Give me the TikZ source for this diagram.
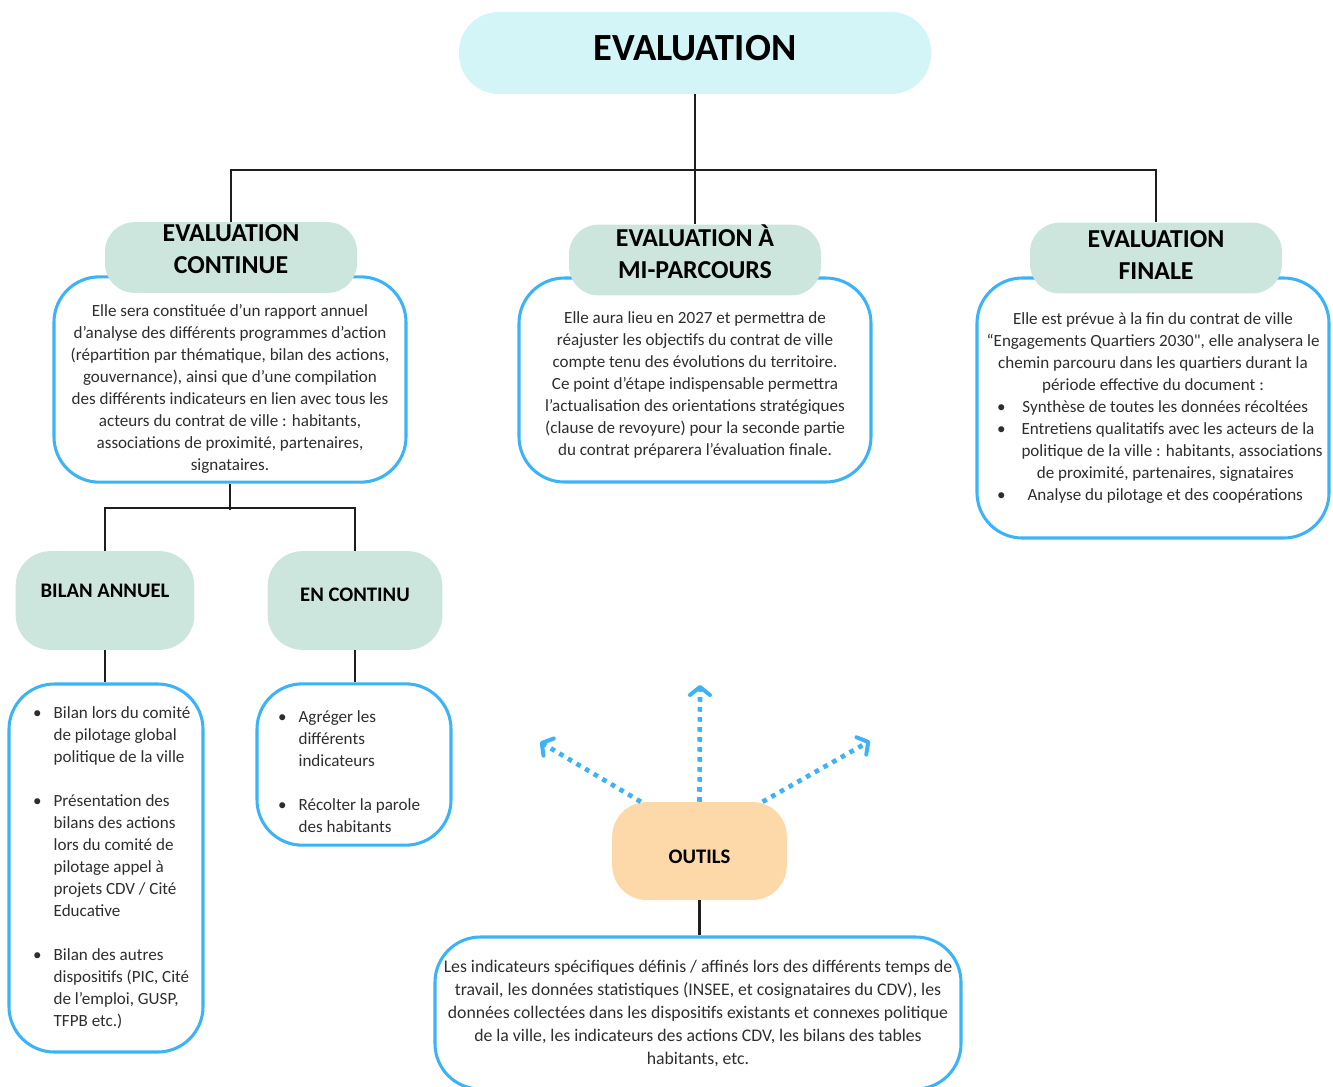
\documentclass[tikz,border=0pt]{standalone}
\usepackage{fontspec}
\setmainfont{Carlito}
\usepackage{xcolor}
\usetikzlibrary{arrows.meta}

\definecolor{cyanclair}{HTML}{D3F5F8}
\definecolor{menthe}{HTML}{CCE6DE}
\definecolor{bleubord}{HTML}{3DB3F7}
\definecolor{peche}{HTML}{FDD8A8}
\definecolor{texte}{HTML}{2E2E2E}
\definecolor{trait}{HTML}{1E1E1E}

\newcommand{\puce}[1][24pt]{\hspace*{#1}\llap{\textbullet\hspace{9pt}}}
\newcommand{\suite}[1][24pt]{\hspace*{#1}}
\newcommand{\pucef}[1]{\makebox[234pt][l]{\textbullet\hspace{12pt}\hfill#1\hfill}}
\newcommand{\suitef}[1]{\makebox[234pt][l]{\phantom{\textbullet}\hspace{12pt}\hfill#1\hfill}}
\newcommand{\haut}[1]{\rule{0pt}{#1}}

\begin{document}
\begin{tikzpicture}[x=0.75pt, y=-0.75pt,
    titre/.style={rectangle, rounded corners=22pt, fill=menthe, minimum width=189pt, minimum height=53pt, inner sep=0pt, align=center, text height=30pt, text depth=6.3pt, font=\bfseries\fontsize{19.4}{24}\selectfont},
    soustitre/.style={rectangle, rounded corners=26pt, fill=menthe, minimum width=132pt, minimum height=74pt, inner sep=0pt, text height=10pt, font=\bfseries\fontsize{15.5}{18}\selectfont},
    corps/.style={rectangle, rounded corners=34pt, draw=bleubord, line width=2.3pt, fill=white, text=texte, inner sep=0pt, minimum width=264pt, align=center, font=\fontsize{12.8}{16.5}\selectfont},
    lien/.style={draw=trait, line width=1.8pt},
    fleche/.style={draw=bleubord, line width=3.5pt, dash pattern=on 3.5pt off 4pt, -{Straight Barb[length=6pt, width=15pt, line width=3pt, round]}}
]

\useasboundingbox (0,0) rectangle (1333,1086);
\clip (0,0) rectangle (1333,1086);

% niveau 1
\node[rectangle, rounded corners=30pt, fill=cyanclair, minimum width=354pt, minimum height=61.5pt, text height=20pt, text depth=9.3pt, font=\bfseries\fontsize{28.8}{32}\selectfont] (evaluation) at (695,53) {EVALUATION};

% blocs de texte
\node[corps, minimum height=154pt] (txtcontinue) at (230,379.5) {\haut{23.8pt}Elle sera constituée d’un rapport annuel\\
d’analyse des différents programmes d’action\\
(répartition par thématique, bilan des actions,\\
gouvernance), ainsi que d’une compilation\\
des différents indicateurs en lien avec tous les\\
acteurs du contrat de ville : habitants,\\
associations de proximité, partenaires,\\
signataires.};
\node[corps, minimum height=153pt] (txtmi) at (695,380) {\haut{15.6pt}Elle aura lieu en 2027 et permettra de\\
réajuster les objectifs du contrat de ville\\
compte tenu des évolutions du territoire.\\
Ce point d’étape indispensable permettra\\
l’actualisation des orientations stratégiques\\
(clause de revoyure) pour la seconde partie\\
du contrat préparera l’évaluation finale.};
\node[corps, minimum height=195pt] (txtfinale) at (1153,408) {Elle est prévue à la fin du contrat de ville\\
“Engagements Quartiers 2030\textquotedbl, elle analysera le\\
chemin parcouru dans les quartiers durant la\\
période effective du document :\\
\pucef{Synthèse de toutes les données récoltées}\\
\pucef{Entretiens qualitatifs avec les acteurs de la}\\
\suitef{politique de la ville : habitants, associations}\\
\suitef{de proximité, partenaires, signataires}\\
\pucef{Analyse du pilotage et des coopérations}};

% titres
\node[titre] (continue) at (231,257.5) {EVALUATION\\CONTINUE};
\node[titre, text height=32pt, text depth=4.5pt] (mi) at (695,260) {EVALUATION À\\MI-PARCOURS};
\node[titre, text height=36pt, text depth=4pt] (finale) at (1156,258) {EVALUATION\\FINALE};

% sous-niveaux
\node[soustitre, minimum width=134pt, text depth=14.4pt] (bilan) at (105,600.5) {BILAN ANNUEL};
\node[soustitre, minimum width=131pt, text depth=8.4pt] (encontinu) at (355,600.5) {EN CONTINU};
\node[corps, align=left, minimum width=145.5pt, minimum height=276pt] (txtbilan) at (106,868) {\puce Bilan lors du comité\\
\suite de pilotage global\\
\suite politique de la ville\\[16.5pt]
\puce Présentation des\\
\suite bilans des actions\\
\suite lors du comité de\\
\suite pilotage appel à\\
\suite projets CDV / Cité\\
\suite Educative\\[16.5pt]
\puce Bilan des autres\\
\suite dispositifs (PIC, Cité\\
\suite de l’emploi, GUSP,\\
\suite TFPB etc.)};
\node[corps, align=left, minimum width=145.5pt, minimum height=121pt] (txtencontinu) at (354,764.5) {\puce[8pt]\haut{20pt}Agréger les\\
\suite[8pt]différents\\
\suite[8pt]indicateurs\\[16.5pt]
\puce[8pt]Récolter la parole\\
\suite[8pt]des habitants};

% outils
\node[soustitre, fill=peche, minimum width=131pt, minimum height=73.5pt, text height=22pt, text depth=3.2pt] (outils) at (699.5,851) {OUTILS};
\node[corps, minimum width=394.5pt, minimum height=114pt, font=\fontsize{13.3}{17.25}\selectfont] (txtoutils) at (698,1013) {Les indicateurs spécifiques définis / affinés lors des différents temps de\\
travail, les données statistiques (INSEE, et cosignataires du CDV), les\\
données collectées dans les dispositifs existants et connexes politique\\
de la ville, les indicateurs des actions CDV, les bilans des tables\\
habitants, etc.};

% liens
\draw[lien] (evaluation.south) -- (mi.north);
\draw[lien] (continue.north) -- ++(0,-52) -| (finale.north);
\draw[lien] (txtcontinue.south) -- ++(0,26);
\draw[lien] (bilan.north) -- ++(0,-43) -| (encontinu.north);
\draw[lien] (bilan.south) -- (bilan.south |- txtbilan.north);
\draw[lien] (encontinu.south) -- (encontinu.south |- txtencontinu.north);
\draw[lien] (outils.south) -- (outils.south |- txtoutils.north);

% fleches
\coordinate (versgauche) at (540,742);
\coordinate (vershaut) at (700,685);
\coordinate (versdroite) at (870,741);
\draw[fleche] (outils.140) -- (versgauche);
\draw[fleche] (outils.north) -- (vershaut);
\draw[fleche] (outils.38) -- (versdroite);

\end{tikzpicture}
\end{document}
